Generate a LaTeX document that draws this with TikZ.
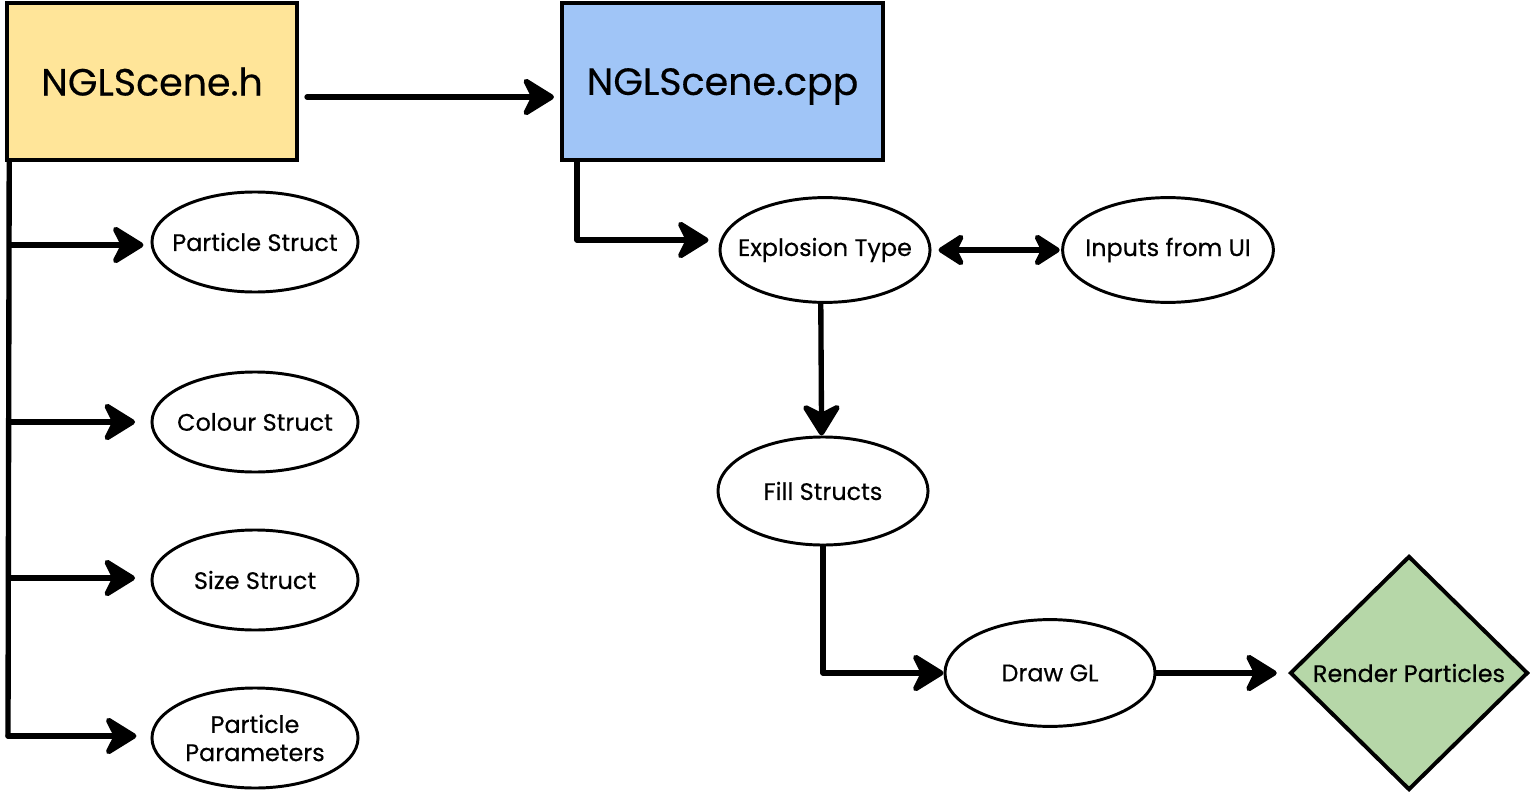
\documentclass[tikz,border=0pt]{standalone}
\usepackage{fontspec}
\setmainfont{Poppins}[FakeBold=0.4]
\usetikzlibrary{arrows.meta,shapes.geometric}
\definecolor{hyellow}{RGB}{255,229,153}
\definecolor{cblue}{RGB}{160,197,247}
\definecolor{rgreen}{RGB}{182,215,168}
\newcommand{\zb}[1]{\makebox[0pt][c]{#1}}
\tikzset{
  titlebox/.style={draw=black, line width=2.8pt, inner sep=0pt, text depth=0pt, font=\fontsize{27}{30}\selectfont},
  oval/.style={draw=black, ellipse, line width=2.1pt, inner sep=0pt, fill=white, font=\fontsize{17}{22}\selectfont, align=center},
  conn/.style={line width=3.8pt, line cap=round, line join=round, -{Stealth[length=26pt, width=32pt, inset=8pt, round]}},
  dconn/.style={line width=3.8pt, {Stealth[length=22pt, width=28pt, inset=7pt, round]}-{Stealth[length=22pt, width=28pt, inset=7pt, round]}},
  plain/.style={line width=3.8pt, line cap=round, line join=round},
}
\begin{document}
\begin{tikzpicture}[x=0.025cm, y=-0.025cm]
\useasboundingbox (0,0) rectangle (1530,794);
% boxes
\node[titlebox, fill=hyellow, minimum width=7.25cm, minimum height=3.925cm] (h) at (152,81.5) {NGLScene.h};
\node[titlebox, fill=cblue, minimum width=8.025cm, minimum height=3.925cm] (cpp) at (722.5,81.5) {NGLScene.cpp};
% left ellipses
\node[oval, minimum width=5.15cm, minimum height=2.5cm] (ps) at (255,242) {\zb{Particle Struct}};
\node[oval, minimum width=5.15cm, minimum height=2.5cm] (cs) at (255,422) {\zb{Colour Struct}};
\node[oval, minimum width=5.15cm, minimum height=2.5cm] (ss) at (255,580) {\zb{Size Struct}};
\node[oval, minimum width=5.15cm, minimum height=2.5cm] (pp) at (255,738) {\zb{Particle}\\[-2pt]\zb{Parameters}};
% right ellipses
\node[oval, minimum width=5.25cm, minimum height=2.62cm] (ex) at (825,250) {\zb{Explosion Type}};
\node[oval, minimum width=5.27cm, minimum height=2.62cm] (ui) at (1168,250) {\zb{Inputs from UI}};
\node[oval, minimum width=5.25cm, minimum height=2.7cm] (fs) at (823,491) {\zb{Fill Structs}};
\node[oval, minimum width=5.25cm, minimum height=2.67cm] (dg) at (1050,673) {\zb{Draw GL}};
\node[diamond, draw=black, line width=2.8pt, fill=rgreen, inner sep=0pt, minimum width=5.95cm, minimum height=5.85cm, font=\fontsize{17}{22}\selectfont] (rp) at (1409,673) {\zb{Render Particles}};
% trunk coordinates
\coordinate (t0) at ([xshift=3]h.south west);
\coordinate (t1) at (10,245);
\coordinate (t2) at (9,422);
\coordinate (t3) at (9,578);
\coordinate (t4) at (8,736);
% connectors
\draw[conn] ([shift={(8,15.5)}]h.east) -- ([shift={(-6,15.5)}]cpp.west);
\draw[plain] (t0) -- (t4);
\draw[conn] (t1) -- ([xshift=-5]t1 -| ps.west);
\draw[conn] (t2) -- ([xshift=-11]t2 -| cs.west);
\draw[conn] (t3) -- ([xshift=-11]t3 -| ss.west);
\draw[conn] (t4) -- ([xshift=-10]t4 -| pp.west);
\draw[conn] ([xshift=12]cpp.south west) |- ([shift={(-10,-10)}]ex.west);
\draw[dconn] ([xshift=5]ex.east) -- ([xshift=-1]ui.west);
\draw[conn] ([xshift=-3]ex.south) -- ([xshift=-1]fs.north);
\draw[conn] (fs.south) |- ([xshift=0]dg.west);
\draw[conn] (dg.east) -- ([xshift=-8]rp.west);
\end{tikzpicture}
\end{document}
